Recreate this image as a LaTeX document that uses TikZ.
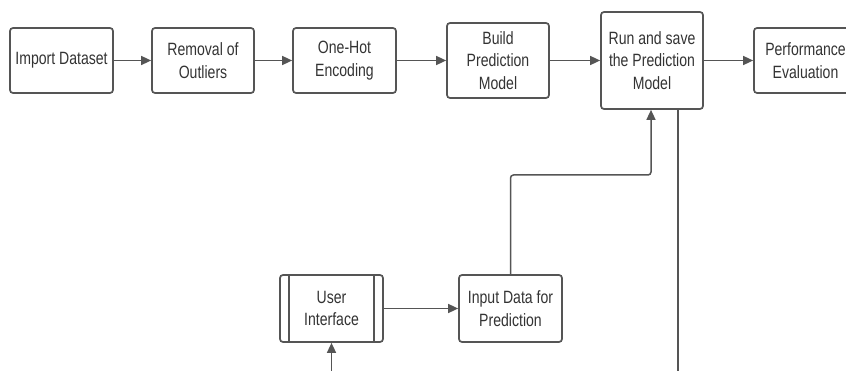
\documentclass[tikz,border=0pt]{standalone}
\usepackage{fontspec}
\setmainfont{Liberation Sans}[FakeStretch=0.79]
\usetikzlibrary{arrows.meta}
\definecolor{ln}{HTML}{555555}
\definecolor{tx}{HTML}{333333}
\tikzset{
  box/.style={draw=ln, line width=1.7pt, rounded corners=3pt, align=center,
    text=tx, font=\fontsize{17.8}{22.5}\selectfont, inner sep=0pt,
    minimum width=#1},
  box/.default=102pt,
  arr/.style={draw=ln, line width=1.5pt, -{Triangle[length=10pt,width=9pt]}},
  plain/.style={draw=ln, line width=1.5pt}
}
\begin{document}
\begin{tikzpicture}[x=1pt,y=-1pt]
\useasboundingbox (0,0) rectangle (846,371);
\node[box=103pt, minimum height=65pt] (imp) at (61.5,60.5) {Import Dataset};
\node[box, minimum height=65pt] (rem) at (203,60.5) {Removal of\\Outliers};
\node[box=103pt, minimum height=65pt] (one) at (344.5,60.5) {One-Hot\\Encoding};
\node[box, minimum height=75pt] (build) at (498,60.5) {Build\\Prediction\\Model};
\node[box, minimum height=97pt] (run) at (652,60.5) {Run and save\\the Prediction\\Model};
\node[box=103pt, minimum height=65pt] (perf) at (805.5,60.5) {Performance\\Evaluation};
\node[box=103pt, minimum height=67pt] (ui) at (331.5,308.5) {User\\Interface};
\node[box=103pt, minimum height=67pt] (inp) at (510.5,308.5) {Input Data for\\Prediction};
\draw[plain] ([xshift=10pt]ui.north west) -- ([xshift=10pt]ui.south west);
\draw[plain] ([xshift=-10pt]ui.north east) -- ([xshift=-10pt]ui.south east);
\draw[arr] (imp) -- (rem);
\draw[arr] (rem) -- (one);
\draw[arr] (one) -- (build);
\draw[arr] (build) -- (run);
\draw[arr] (run) -- (perf);
\draw[arr] (ui) -- (inp);
\coordinate (b1) at (651,175);
\draw[arr, rounded corners=3pt] (inp.north) |- (b1) -- (run.south -| b1);
\coordinate (c1) at (678,371.6);
\draw[arr] (run.south -| c1) -- (c1) -| (ui.south);
\end{tikzpicture}
\end{document}
